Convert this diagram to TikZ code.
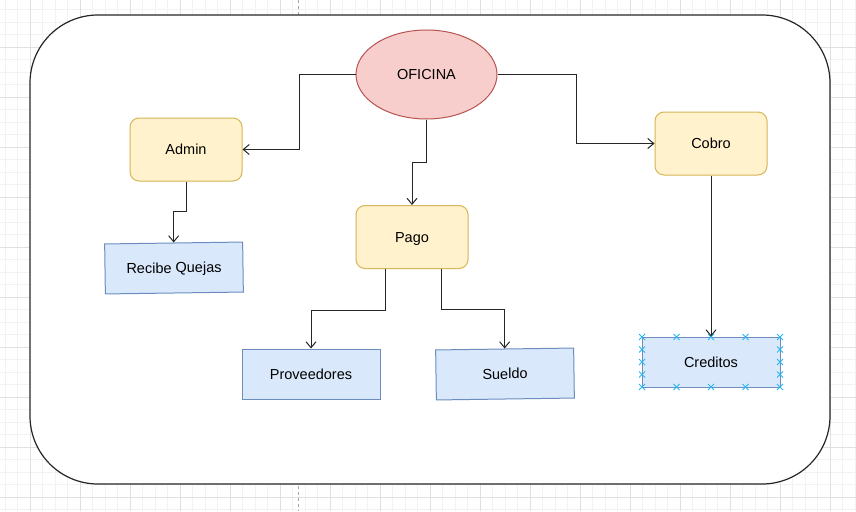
\documentclass[tikz,border=0pt]{standalone}
\usepackage{fontspec}
\setmainfont{Liberation Sans}
\usetikzlibrary{arrows.meta,shapes.geometric}
\definecolor{minorgrid}{HTML}{F2F2F2}
\definecolor{majorgrid}{HTML}{E0E0E0}
\definecolor{redfill}{HTML}{F8CECC}
\definecolor{redline}{HTML}{B85450}
\definecolor{yelfill}{HTML}{FFF2CC}
\definecolor{yelline}{HTML}{D6B656}
\definecolor{bluefill}{HTML}{DAE8FC}
\definecolor{blueline}{HTML}{6C8EBF}
\definecolor{handle}{HTML}{29B6F2}
\tikzset{
  lbl/.style={font=\fontsize{14.5}{17}\selectfont, text=black, inner sep=0pt,
     text height=12.5pt, text depth=2.5pt},
  yelbox/.style={lbl, draw=yelline, fill=yelfill, line width=1pt, rounded corners=9pt,
     minimum width=112pt, minimum height=63pt},
  bluebox/.style={lbl, draw=blueline, fill=bluefill, line width=1pt,
     minimum width=138pt, minimum height=50pt},
  arr/.style={draw=black!85, line width=1pt, -{Straight Barb[length=6pt,width=10pt,line width=1pt]}},
  container/.style={draw=black!85, fill=white, line width=1.2pt, rounded corners=68pt,
     minimum width=800pt, minimum height=469pt, inner sep=0pt},
}
\begin{document}
\begin{tikzpicture}[x=1pt,y=-1pt]
\useasboundingbox (0,0) rectangle (856,511);
% grid
\foreach \gx in {5,17.5,...,856} \draw[minorgrid, line width=0.8pt] (\gx,0) -- (\gx,511);
\foreach \gy in {9.5,22,...,511} \draw[minorgrid, line width=0.8pt] (0,\gy) -- (856,\gy);
\foreach \gx in {30,80,...,856} \draw[majorgrid, line width=0.8pt] (\gx,0) -- (\gx,511);
\foreach \gy in {47,97,...,511} \draw[majorgrid, line width=0.8pt] (0,\gy) -- (856,\gy);
\draw[black!35, dashed, line width=0.8pt, dash pattern=on 3pt off 3pt] (298,0) -- (298,511);
% container
\node[container] (box) at (430,249.5) {};
% nodes
\node[lbl, ellipse, draw=redline, fill=redfill, line width=1pt, minimum width=141pt, minimum height=89pt] (ofi) at (426.5,74.5) {OFICINA};
\node[yelbox] (admin) at (186,149.5) {Admin};
\node[yelbox] (pago) at (412,237) {Pago};
\node[yelbox] (cobro) at (711,143.5) {Cobro};
\node[bluebox, rotate=0.8] (rq) at (174,268) {Recibe Quejas};
\node[bluebox] (prov) at (311,374) {Proveedores};
\node[bluebox, rotate=0.8] (sue) at (505,374) {Sueldo};
\node[bluebox] (cred) at (711,362) {Creditos};
% handles
\foreach \hx in {642,676.5,711,745.5,780} {
  \foreach \hy in {337,387} {
    \draw[handle, line width=1pt] (\hx-3,\hy-3) -- (\hx+3,\hy+3) (\hx-3,\hy+3) -- (\hx+3,\hy-3);
  }
}
\foreach \hy in {349.5,362,374.5} {
  \foreach \hx in {642,780} {
    \draw[handle, line width=1pt] (\hx-3,\hy-3) -- (\hx+3,\hy+3) (\hx-3,\hy+3) -- (\hx+3,\hy-3);
  }
}
% connectors
\draw[arr] (ofi.west) -| (299,149.5) -- (admin.east);
\draw[arr] (ofi.east) -| (576,143.5) -- (cobro.west);
\draw[arr] (ofi.south) -- ++(0,43) -| (pago.north);
\draw[arr] (admin.south) -- ++(0,30) -| (rq.north);
\draw[arr] ([xshift=-27pt]pago.south) -- ++(0,41) -| (prov.north);
\draw[arr] ([xshift=29pt]pago.south) -- ++(0,40) -| (sue.north);
\draw[arr] (cobro.south) -- (cred.north);
\end{tikzpicture}
\end{document}
